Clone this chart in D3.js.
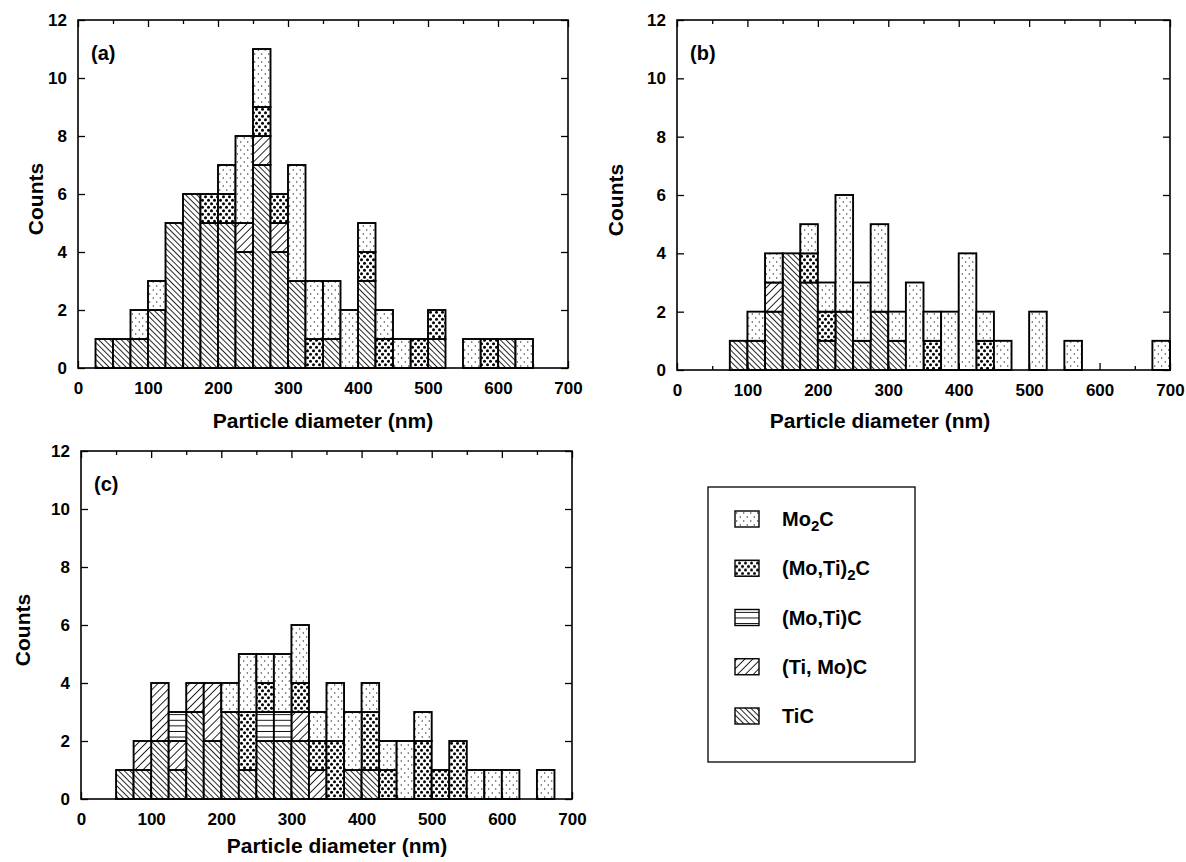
<!DOCTYPE html>
<html>
<head>
<meta charset="utf-8">
<script src="https://cdn.jsdelivr.net/npm/d3@7"></script>
<style>
  body { margin: 0; background: #fff; }
  text { font-family: "Liberation Sans", Arial, sans-serif; font-weight: bold; fill: #000; }
  .tick text { font-size: 17px; }
</style>
</head>
<body>
<svg width="1186" height="862"></svg>
<script>
// carbide phases, listed bottom to top of each stacked bar
var phases = ["TiC", "TiMoC", "MoTiC", "MoTi2C", "Mo2C"];
var binWidth = 25;
var xTicks = [0, 100, 200, 300, 400, 500, 600, 700];
var xMinor = [50, 150, 250, 350, 450, 550, 650];
var yTicks = [0, 2, 4, 6, 8, 10, 12];

// panel (a): bin start (nm) and counts per phase
var binsA     = [25,50,75,100,125,150,175,200,225,250,275,300,325,350,375,400,425,450,475,500,525,550,575,600,625];
var a_TiC     = [1, 1, 1, 2,  5,  6,  5,  5,  4,  7,  4,  3,  0,  1,  0,  3,  0,  0,  0,  1,  0,  0,  0,  1,  0];
var a_TiMoC   = [0, 0, 0, 0,  0,  0,  0,  0,  1,  1,  1,  0,  0,  0,  0,  0,  0,  0,  0,  0,  0,  0,  0,  0,  0];
var a_MoTiC   = [0, 0, 0, 0,  0,  0,  0,  0,  0,  0,  0,  0,  0,  0,  0,  0,  0,  0,  0,  0,  0,  0,  0,  0,  0];
var a_MoTi2C  = [0, 0, 0, 0,  0,  0,  1,  1,  0,  1,  1,  0,  1,  0,  0,  1,  1,  0,  1,  1,  0,  0,  1,  0,  0];
var a_Mo2C    = [0, 0, 1, 1,  0,  0,  0,  1,  3,  2,  0,  4,  2,  2,  2,  1,  1,  1,  0,  0,  0,  1,  0,  0,  1];

// panel (b)
var binsB     = [75,100,125,150,175,200,225,250,275,300,325,350,375,400,425,450,475,500,525,550,575,600,625,650,675];
var b_TiC     = [1, 1,  2,  4,  3,  1,  2,  1,  2,  1,  0,  0,  0,  0,  0,  0,  0,  0,  0,  0,  0,  0,  0,  0,  0];
var b_TiMoC   = [0, 0,  1,  0,  0,  0,  0,  0,  0,  0,  0,  0,  0,  0,  0,  0,  0,  0,  0,  0,  0,  0,  0,  0,  0];
var b_MoTiC   = [0, 0,  0,  0,  0,  0,  0,  0,  0,  0,  0,  0,  0,  0,  0,  0,  0,  0,  0,  0,  0,  0,  0,  0,  0];
var b_MoTi2C  = [0, 0,  0,  0,  1,  1,  0,  0,  0,  0,  0,  1,  0,  0,  1,  0,  0,  0,  0,  0,  0,  0,  0,  0,  0];
var b_Mo2C    = [0, 1,  1,  0,  1,  1,  4,  2,  3,  1,  3,  1,  2,  4,  1,  1,  0,  2,  0,  1,  0,  0,  0,  0,  1];

// panel (c)
var binsC     = [50,75,100,125,150,175,200,225,250,275,300,325,350,375,400,425,450,475,500,525,550,575,600,625,650];
var c_TiC     = [1, 1, 2,  1,  3,  2,  3,  1,  2,  2,  2,  0,  0,  1,  1,  0,  0,  0,  0,  0,  0,  0,  0,  0,  0];
var c_TiMoC   = [0, 1, 2,  1,  1,  2,  0,  0,  0,  0,  1,  1,  0,  0,  0,  0,  0,  0,  0,  0,  0,  0,  0,  0,  0];
var c_MoTiC   = [0, 0, 0,  1,  0,  0,  0,  0,  1,  1,  0,  0,  0,  0,  0,  0,  0,  0,  0,  0,  0,  0,  0,  0,  0];
var c_MoTi2C  = [0, 0, 0,  0,  0,  0,  0,  2,  1,  0,  1,  1,  2,  0,  2,  1,  0,  2,  1,  2,  0,  0,  0,  0,  0];
var c_Mo2C    = [0, 0, 0,  0,  0,  0,  1,  2,  1,  2,  2,  1,  2,  2,  1,  1,  2,  1,  0,  0,  1,  1,  1,  0,  1];

var svg = d3.select("svg");
var defs = svg.append("defs");

//hatch/dot fills, one per phase
function linePattern(id, size, angle, sw) {
  var p = defs.append("pattern").attr("id", id)
      .attr("patternUnits", "userSpaceOnUse")
      .attr("width", size).attr("height", size)
      .attr("patternTransform", "rotate(" + angle + ")");
  p.append("rect").attr("width", size).attr("height", size).attr("fill", "#fff");
  p.append("line").attr("x1", 0).attr("y1", 0).attr("x2", 0).attr("y2", size)
      .attr("stroke", "#000").attr("stroke-width", sw);
}
linePattern("pat-TiC", 4, -45, 1.7);
linePattern("pat-TiMoC", 5.6, 45, 1.7);
linePattern("pat-MoTiC", 5.6, 90, 1.8);

function dotPattern(id, w, h, r, col) {
  var p = defs.append("pattern").attr("id", id)
      .attr("patternUnits", "userSpaceOnUse")
      .attr("width", w).attr("height", h);
  p.append("rect").attr("width", w).attr("height", h).attr("fill", "#fff");
  p.append("circle").attr("cx", w / 4).attr("cy", h / 4).attr("r", r).attr("fill", col);
  p.append("circle").attr("cx", 3 * w / 4).attr("cy", 3 * h / 4).attr("r", r).attr("fill", col);
}
dotPattern("pat-MoTi2C", 6, 7, 1.5, "#000");
dotPattern("pat-Mo2C", 7, 8, 0.7, "#222");

var panels = [
  { label: "(a)", left: 78, top: 20, w: 490, h: 348, bins: binsA,
    series: { TiC: a_TiC, TiMoC: a_TiMoC, MoTiC: a_MoTiC, MoTi2C: a_MoTi2C, Mo2C: a_Mo2C },
    countsX: 43, titleX: 323, titleY: 428 },
  { label: "(b)", left: 677, top: 20, w: 493, h: 350, bins: binsB,
    series: { TiC: b_TiC, TiMoC: b_TiMoC, MoTiC: b_MoTiC, MoTi2C: b_MoTi2C, Mo2C: b_Mo2C },
    countsX: 623, titleX: 880, titleY: 428 },
  { label: "(c)", left: 81, top: 451, w: 491, h: 348, bins: binsC,
    series: { TiC: c_TiC, TiMoC: c_TiMoC, MoTiC: c_MoTiC, MoTi2C: c_MoTi2C, Mo2C: c_Mo2C },
    countsX: 30, titleX: 337, titleY: 853 }
];

panels.forEach(drawPanel);

function drawPanel(p) {
  var g = svg.append("g").attr("transform", "translate(" + p.left + "," + p.top + ")");
  var x = d3.scaleLinear().domain([0, 700]).range([0, p.w]);
  var y = d3.scaleLinear().domain([0, 12]).range([p.h, 0]);

  var table = p.bins.map(function(b, i) {
    var row = { x0: b };
    phases.forEach(function(k) { row[k] = p.series[k][i]; });
    return row;
  });
  var stacked = d3.stack().keys(phases)(table);

  g.selectAll("g.layer")
    .data(stacked)
    .enter().append("g")
      .attr("class", "layer")
      .attr("fill", function(d) { return "url(#pat-" + d.key + ")"; })
    .selectAll("rect")
    .data(function(d) { return d.filter(function(s) { return s[1] > s[0]; }); })
    .enter().append("rect")
      .attr("x", function(d) { return x(d.data.x0); })
      .attr("width", function(d) { return x(d.data.x0 + binWidth) - x(d.data.x0); })
      .attr("y", function(d) { return y(d[1]); })
      .attr("height", function(d) { return y(d[0]) - y(d[1]); })
      .attr("stroke", "#000")
      .attr("stroke-width", 1.9);

  // inward ticks on all four sides
  function clean(sel) { sel.select(".domain").remove(); sel.attr("font-size", null).attr("font-family", null); }
  g.append("g").attr("transform", "translate(0," + p.h + ")")
    .call(d3.axisBottom(x).tickValues(xTicks).tickSize(-7).tickFormat("")).call(clean);
  g.append("g").attr("transform", "translate(0," + p.h + ")")
    .call(d3.axisBottom(x).tickValues(xMinor).tickSize(-4).tickFormat("")).call(clean);
  g.append("g").call(d3.axisTop(x).tickValues(xTicks).tickSize(-7).tickFormat("")).call(clean);
  g.append("g").call(d3.axisTop(x).tickValues(xMinor).tickSize(-4).tickFormat("")).call(clean);
  g.append("g").call(d3.axisLeft(y).tickValues(yTicks).tickSize(-7).tickFormat("")).call(clean);
  g.append("g").attr("transform", "translate(" + p.w + ",0)")
    .call(d3.axisRight(y).tickValues(yTicks).tickSize(-7).tickFormat("")).call(clean);
  g.selectAll(".tick line").attr("stroke", "#000").attr("stroke-width", 1.3);

  // tick labels
  g.append("g").attr("transform", "translate(0," + p.h + ")")
    .call(d3.axisBottom(x).tickValues(xTicks).tickSize(0).tickPadding(14)).call(clean);
  g.append("g")
    .call(d3.axisLeft(y).tickValues(yTicks).tickSize(0).tickPadding(11)).call(clean);

  // frame
  g.append("rect").attr("width", p.w).attr("height", p.h)
    .attr("fill", "none").attr("stroke", "#000").attr("stroke-width", 1.6);

  g.append("text").attr("x", 13).attr("y", 40)
    .attr("font-size", 20).text(p.label);

  svg.append("text")
    .attr("transform", "translate(" + p.countsX + "," + (p.top + p.h / 2 + 5) + ") rotate(-90)")
    .attr("text-anchor", "middle").attr("font-size", 21).text("Counts");

  svg.append("text").attr("x", p.titleX).attr("y", p.titleY)
    .attr("text-anchor", "middle").attr("font-size", 21).text("Particle diameter (nm)");
}

// legend
var legendItems = [
  { key: "Mo2C", main: "Mo", sub: "2", tail: "C" },
  { key: "MoTi2C", main: "(Mo,Ti)", sub: "2", tail: "C" },
  { key: "MoTiC", main: "(Mo,Ti)C", sub: "", tail: "" },
  { key: "TiMoC", main: "(Ti, Mo)C", sub: "", tail: "" },
  { key: "TiC", main: "TiC", sub: "", tail: "" }
];
var lg = svg.append("g");
lg.append("rect").attr("x", 708).attr("y", 487).attr("width", 207).attr("height", 275)
  .attr("fill", "#fff").attr("stroke", "#000").attr("stroke-width", 1.3);

var ly = d3.scalePoint().domain(legendItems.map(function(d) { return d.key; }))
  .range([519, 716]);

var item = lg.selectAll("g.item").data(legendItems).enter().append("g")
  .attr("class", "item")
  .attr("transform", function(d) { return "translate(0," + ly(d.key) + ")"; });
item.append("rect").attr("x", 735).attr("y", -8).attr("width", 24).attr("height", 16)
  .attr("fill", function(d) { return "url(#pat-" + d.key + ")"; })
  .attr("stroke", "#000").attr("stroke-width", 1.4);
var t = item.append("text").attr("x", 782).attr("y", 7).attr("font-size", 20);
t.append("tspan").text(function(d) { return d.main; });
t.append("tspan").attr("font-size", 15).attr("dy", 5).text(function(d) { return d.sub; });
t.append("tspan").attr("dy", function(d) { return d.sub ? -5 : 0; }).text(function(d) { return d.tail; });
</script>
</body>
</html>
